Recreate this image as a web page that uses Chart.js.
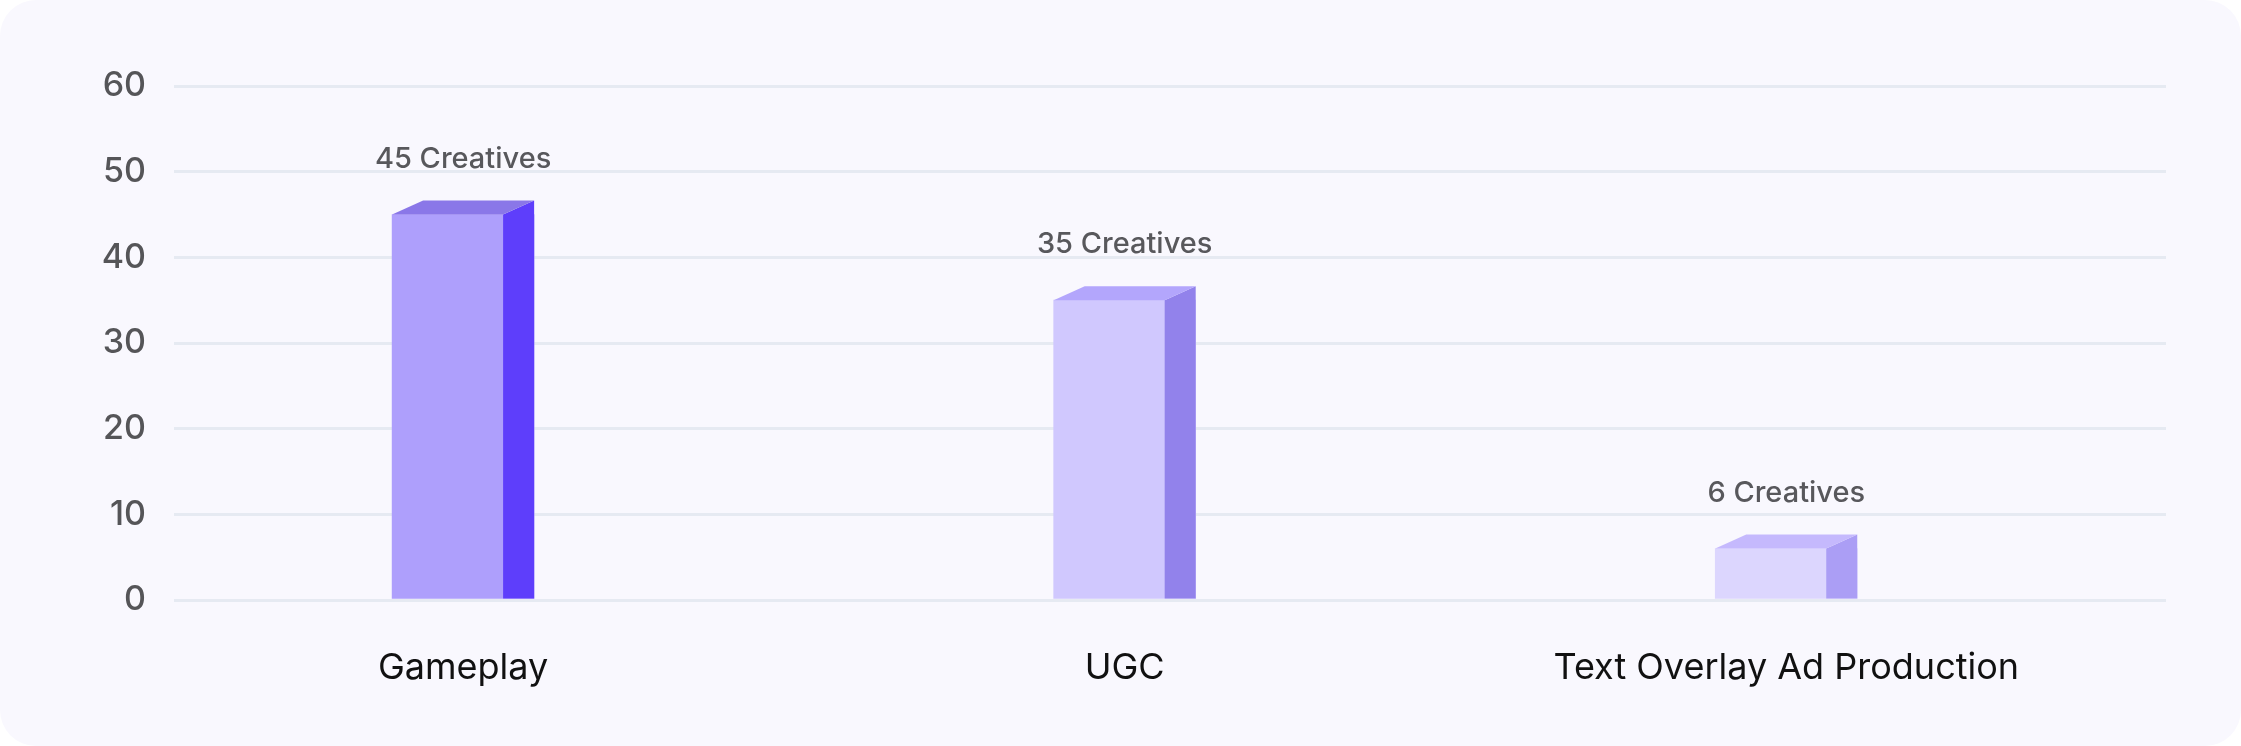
<!DOCTYPE html>
<html>
<head>
<meta charset="utf-8">
<script src="https://cdn.jsdelivr.net/npm/chart.js@4/dist/chart.umd.min.js"></script>
<style>
  html, body { margin: 0; padding: 0; background: #ffffff; }
  .card {
    width: 2241px; height: 746px;
    background: #f9f8fe; border-radius: 36px; overflow: hidden;
  }
  canvas { display: block; }
</style>
</head>
<body>
<div class="card"><canvas id="c" width="2241" height="746"></canvas></div>
<script>
// Data
const categories = ['Gameplay', 'UGC', 'Text Overlay Ad Production'];
const creatives  = [45, 35, 6];
const yTicks     = [0, 10, 20, 30, 40, 50, 60];

// colours for each 3D bar: front / side / top
const FRONT = ['#ae9ffc', '#d0c8fe', '#dcd6fe'];
const SIDE  = ['#5e3efb', '#9282eb', '#ab9ef5'];
const TOP   = ['#8a77e8', '#b3a6fc', '#c5b9fd'];

const SIDE_W = 31;   // depth of the side face
const DEPTH  = 14;   // how far the back edge rises

// Draws the side + top faces over each bar, and the "N Creatives" label
const bar3d = {
  id: 'bar3d',
  afterDatasetsDraw(chart) {
    const ctx = chart.ctx;
    const meta = chart.getDatasetMeta(0);
    meta.data.forEach((bar, i) => {
      const left = bar.x - bar.width / 2;
      const right = bar.x + bar.width / 2;
      const front = right - SIDE_W;
      const top = bar.y, base = bar.base;
      ctx.save();
      // side
      ctx.fillStyle = SIDE[i];
      ctx.beginPath();
      ctx.moveTo(front, top);
      ctx.lineTo(right, top - DEPTH);
      ctx.lineTo(right, base);
      ctx.lineTo(front, base);
      ctx.closePath();
      ctx.fill();
      // top
      ctx.fillStyle = TOP[i];
      ctx.beginPath();
      ctx.moveTo(left, top);
      ctx.lineTo(front, top);
      ctx.lineTo(right, top - DEPTH);
      ctx.lineTo(left + SIDE_W, top - DEPTH);
      ctx.closePath();
      ctx.fill();
      // value label
      ctx.fillStyle = '#58585c';
      ctx.font = '500 29px Inter';
      ctx.textAlign = 'center';
      ctx.textBaseline = 'alphabetic';
      ctx.fillText(creatives[i] + ' Creatives', bar.x, top - DEPTH - 33);
      ctx.restore();
    });
  }
};

new Chart(document.getElementById('c'), {
  type: 'bar',
  data: {
    datasets: [{
      data: creatives.map((v, i) => ({ x: i, y: v })),
      backgroundColor: FRONT,
      borderWidth: 0,
      barThickness: 142,
    }],
  },
  options: {
    responsive: false,
    animation: false,
    devicePixelRatio: 1,
    layout: { padding: { left: 0, right: 75, top: 86, bottom: 0 } },
    plugins: { legend: { display: false }, tooltip: { enabled: false } },
    scales: {
      x: {
        type: 'linear',
        offset: false,
        bounds: 'data',
        min: -0.437, max: 2.574,
        grid: { display: false },
        border: { display: false },
        afterBuildTicks: (s) => { s.ticks = categories.map((c, i) => ({ value: i })); },
        afterFit: (s) => { s.height = 146; },
        ticks: {
          padding: 39,
          color: '#111111',
          font: { family: 'Inter', size: 36 },
          callback: (v) => categories[v] ?? '',
        },
      },
      y: {
        min: 0, max: 60,
        afterBuildTicks: (s) => { s.ticks = yTicks.map(v => ({ value: v })); },
        afterFit: (s) => { s.width = 174; },
        grid: { color: '#e6eaf2', lineWidth: 3, drawTicks: false },
        border: { display: false },
        ticks: {
          padding: 28,
          color: '#555558',
          font: { family: 'Inter', size: 34, weight: 500 },
        },
      },
    },
  },
  plugins: [bar3d],
});
</script>
</body>
</html>
